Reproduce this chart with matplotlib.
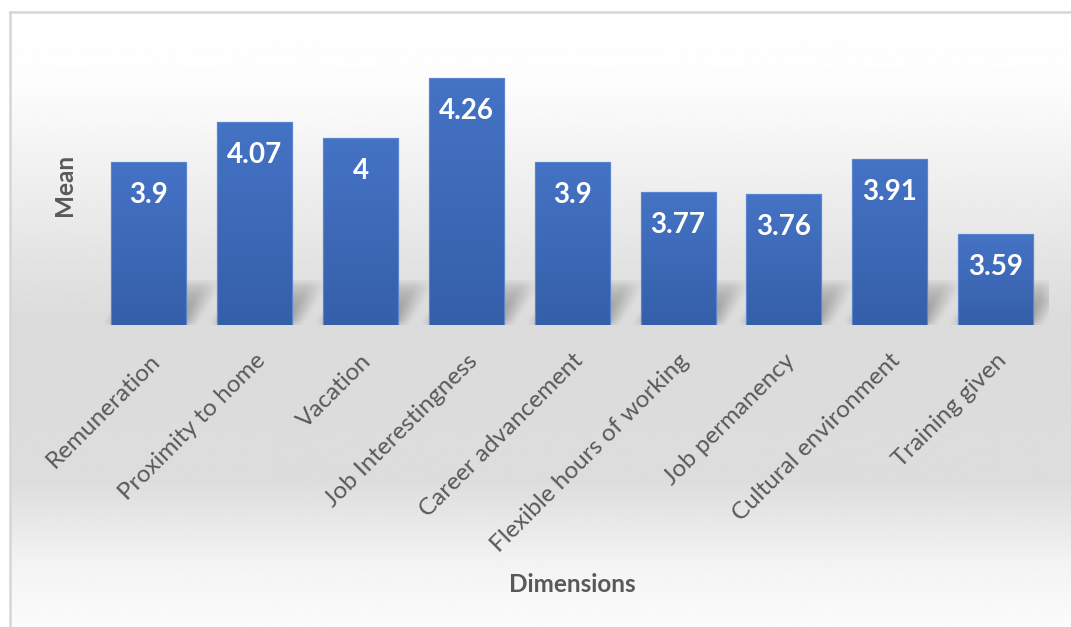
import numpy as np
import matplotlib.pyplot as plt
from matplotlib.colors import LinearSegmentedColormap

plt.rcParams['font.family'] = ['Lato', 'DejaVu Sans']

categories = ["Remuneration", "Proximity to home", "Vacation", "Job Interestingness",
              "Career advancement", "Flexible hours of working", "Job permanency",
              "Cultural environment", "Training given"]
means = [3.9, 4.07, 4, 4.26, 3.9, 3.77, 3.76, 3.91, 3.59]
value_labels = ["3.9", "4.07", "4", "4.26", "3.9", "3.77", "3.76", "3.91", "3.59"]

W, H = 1071, 627
fig = plt.figure(figsize=(W / 100, H / 100), dpi=100)
fig.patch.set_facecolor('white')

# fondo del gráfico: degradado blanco -> gris -> blanco
bg = fig.add_axes([10 / W, 0, 1 - 10 / W, 1 - 12 / H])
stops_y = [0.0, 0.12, 0.5, 0.76, 0.9, 1.0]
stops_v = [1.0, 0.99, 0.86, 0.865, 0.955, 0.985]
yy = np.linspace(0, 1, 500)
grad = np.interp(yy, stops_y, stops_v)[:, None]
bg.imshow(np.repeat(grad, 2, axis=1), cmap='gray', vmin=0, vmax=1,
          aspect='auto', extent=[0, 1, 0, 1], interpolation='bilinear')
bg.set_xlim(0, 1)
bg.set_ylim(0, 1)
bg.set_xticks([])
bg.set_yticks([])
for s in ['right', 'bottom']:
    bg.spines[s].set_visible(False)
for s in ['left', 'top']:
    bg.spines[s].set_color('#d6d6d6')
    bg.spines[s].set_linewidth(1.8)

# área de trazado
ax = fig.add_axes([96 / W, (H - 325) / H, 952.5 / W, 280 / H])
ax.patch.set_alpha(0)
ymin, ymax = 3.2, 4.4
ax.set_xlim(-0.5, len(categories) - 0.5)
ax.set_ylim(ymin, ymax)
for s in ax.spines.values():
    s.set_visible(False)

x = np.arange(len(categories))
bw = 0.71

# sombra en perspectiva detrás de las barras
sh_h = 0.19
nx, ny = 950, 60
gx = np.linspace(-0.5, len(categories) - 0.5, nx)
gy = np.linspace(0, 1, ny)
GX, GY = np.meshgrid(gx, gy)
alpha = np.zeros_like(GX)
shift = 0.28
for xi in x:
    left = xi - bw / 2 + shift * GY
    right = xi + bw / 2 + shift * GY
    inside = (GX >= left) & (GX <= right)
    alpha = np.maximum(alpha, inside * 0.65 * (1 - GY) ** 0.5)
k1 = np.ones(19) / 19
k2 = np.ones(13) / 13
alpha = np.apply_along_axis(lambda r: np.convolve(r, k1, mode='same'), 1, alpha)
alpha = np.apply_along_axis(lambda c: np.convolve(c, k2, mode='same'), 0, alpha)
shadow = np.zeros((ny, nx, 4))
shadow[..., :3] = 0.42
shadow[..., 3] = alpha
ax.imshow(shadow, extent=[-0.5, len(categories) - 0.5, ymin, ymin + sh_h],
          origin='lower', aspect='auto', zorder=1, interpolation='bilinear')

# barras con degradado
bars = ax.bar(x, means, width=bw, color='#3f6cbb', edgecolor='#5b86cf',
              linewidth=0.8, zorder=2)
bar_cmap = LinearSegmentedColormap.from_list('b', ['#355fa9', '#4573c5'])
vert = np.linspace(0, 1, 200)[:, None]
for b, v in zip(bars, means):
    im = ax.imshow(vert, cmap=bar_cmap, origin='lower', aspect='auto',
                   extent=[b.get_x(), b.get_x() + b.get_width(), ymin, v], zorder=3)
    im.set_clip_path(b)
    ax.bar(b.get_x() + b.get_width() / 2, v, width=bw, color='none',
           edgecolor='#5b86cf', linewidth=0.8, zorder=4)

for xi, v, lbl in zip(x, means, value_labels):
    ax.annotate(lbl, (xi, v), xytext=(0, -33), textcoords='offset pixels',
                ha='center', va='center', color='white', fontsize=20,
                fontweight='bold', zorder=5)

ax.set_yticks([])
ax.set_xticks(x)
ax.set_xticklabels(categories, rotation=45, ha='right', rotation_mode='anchor',
                   fontsize=17.5, color='#595959')
ax.tick_params(axis='x', length=0, pad=18)

fig.text(65 / W, 1 - 185 / H, 'Mean', rotation=90, ha='center', va='center',
         fontsize=17.5, fontweight='bold', color='#595959')
fig.text(572 / W, 1 - 585 / H, 'Dimensions', ha='center', va='center',
         fontsize=17.5, fontweight='bold', color='#595959')

fig.savefig('out.png', dpi=100)
